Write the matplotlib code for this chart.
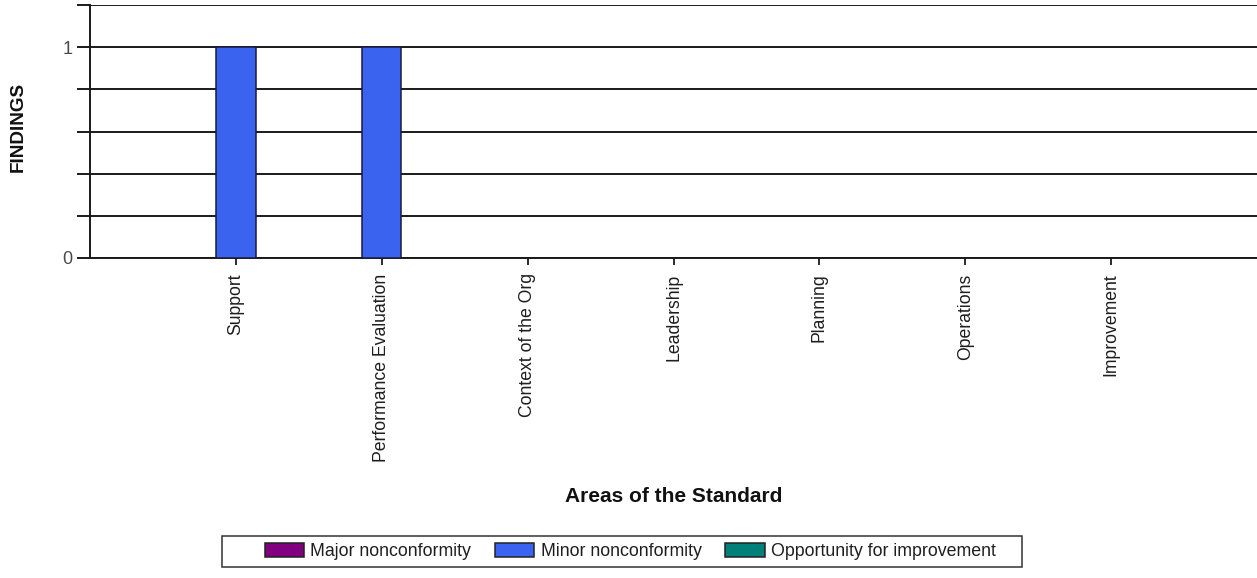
import matplotlib
matplotlib.use("Agg")
import matplotlib.pyplot as plt
import numpy as np
from matplotlib.patches import Patch, Rectangle

plt.rcParams['font.family'] = ['Liberation Sans', 'DejaVu Sans']

# Areas of the standard and finding counts per severity
categories = ["Support", "Performance Evaluation", "Context of the Org",
              "Leadership", "Planning", "Operations", "Improvement"]
series_names = ["Major nonconformity", "Minor nonconformity",
                "Opportunity for improvement"]
major = [0, 0, 0, 0, 0, 0, 0]
minor = [1, 1, 0, 0, 0, 0, 0]
opportunity = [0, 0, 0, 0, 0, 0, 0]
y_ticks = [0, 0.2, 0.4, 0.6, 0.8, 1.0, 1.2]
y_tick_labels = ["0", "", "", "", "", "1", ""]

colors = ["#800080", "#3A63F0", "#008078"]

W, H = 1257, 578
fig = plt.figure(figsize=(W / 100, H / 100), dpi=100)
ax = fig.add_axes([90 / W, 1 - 258 / H, 1 - 90 / W, (258 - 5) / H])

x = np.arange(len(categories))
width = 0.27
for i, (vals, col) in enumerate(zip([major, minor, opportunity], colors)):
    offs = (i - 1) * width
    vals = np.asarray(vals, dtype=float)
    mask = vals > 0
    ax.bar(x[mask] + offs, vals[mask], width=width, color=col,
           edgecolor="#1a1a40", linewidth=1.1, zorder=3)

ax.set_xlim(-1, len(categories))
ax.set_ylim(0, 1.2)

ax.set_yticks(y_ticks)
ax.set_yticklabels(y_tick_labels, fontsize=13, color="#4a4a4a")
ax.yaxis.grid(True, color="#1a1a1a", linewidth=1.4)
ax.set_axisbelow(True)
ax.tick_params(axis="y", length=9.5, width=1.4, color="#1a1a1a", pad=3)

ax.set_xticks(x)
ax.set_xticklabels(categories, rotation=90, fontsize=12.7, color="#1e1e1e")
ax.tick_params(axis="x", length=5, width=1.3, color="#1a1a1a", pad=6)

for s in ["top", "right"]:
    ax.spines[s].set_visible(False)
for s in ["left", "bottom"]:
    ax.spines[s].set_color("#1a1a1a")
    ax.spines[s].set_linewidth(1.4)

fig.text(18 / W, 1 - 127 / H, "FINDINGS", rotation=90, ha="center", va="center",
         fontsize=13.6, fontweight="bold", color="#111111")
fig.text((90 + W) / 2 / W, 1 - 496 / H, "Areas of the Standard", ha="center",
         va="center", fontsize=15, fontweight="bold", color="#111111")

# Legend entries, with a separate fixed-size frame around them
handles = [Patch(facecolor=c, edgecolor="#222222", linewidth=1.1) for c in colors]
leg = fig.legend(handles, series_names, loc="center left", ncol=3,
                 bbox_to_anchor=(265 / W, 1 - 551.5 / H),
                 fontsize=12.8, frameon=False, borderpad=0, borderaxespad=0,
                 handlelength=2.2, handleheight=0.8, handletextpad=0.35,
                 columnspacing=1.35)
for t in leg.get_texts():
    t.set_color("#1e1e1e")
fig.add_artist(Rectangle((222 / W, 1 - 567 / H), (1022 - 222) / W, (567 - 536) / H,
                         transform=fig.transFigure, facecolor="none",
                         edgecolor="#333333", linewidth=1.1))

fig.savefig("out.png", dpi=100)
